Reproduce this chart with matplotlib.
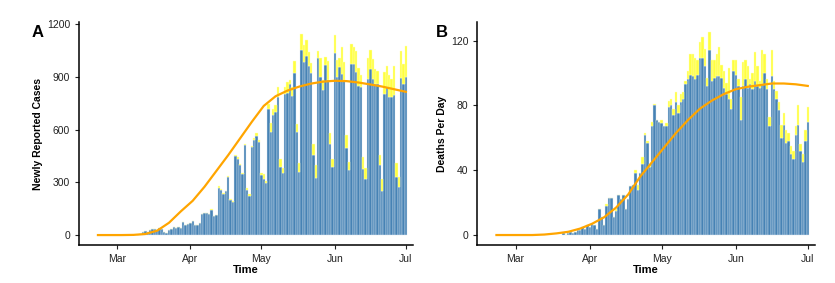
import numpy as np
import pandas as pd
import matplotlib
matplotlib.use("Agg")
import matplotlib.pyplot as plt
import matplotlib.dates as mdates

plt.rcParams['font.family'] = ['Liberation Sans', 'DejaVu Sans']

# Painel A: casos diários (10 mar - 1 jul)
dias_a = pd.date_range("2020-03-10", "2020-07-01", freq="D")
casos_azul = [
    3, 8, 20, 25, 15, 30, 35, 35, 30, 40, 35, 15, 10, 30, 35, 45, 40, 48, 42, 75, 55, 62,
    70, 78, 60, 58, 70, 120, 125, 125, 122, 145, 110, 115, 270, 255, 235, 250, 330, 200, 190,
    450, 435, 400, 350, 510, 255, 225, 500, 540, 565, 530,
    340, 320, 295, 720, 588, 683, 700, 787, 390, 355, 800, 810, 860, 790, 920, 588, 360,
    1055, 985, 1020, 960, 920, 455, 322, 1005, 900, 825, 965, 885, 520, 390,
    1035, 900, 955, 915, 880, 493, 370, 975, 975, 930, 850, 845, 374, 319,
    890, 945, 890, 860, 860, 399, 252, 800, 845, 785, 785, 795, 332, 275, 895, 860,
    900,
]
casos_amarelo = [
    0, 0, 0, 0, 0, 0, 0, 0, 0, 0, 0, 0, 0, 0, 0, 0, 0, 0, 0, 2, 0, 0,
    0, 0, 0, 0, 0, 0, 0, 0, 0, 5, 0, 0, 8, 5, 3, 3, 5, 3, 2,
    8, 8, 5, 5, 10, 10, 8, 5, 10, 15, 10,
    15, 25, 15, 25, 47, 37, 40, 53, 45, 25, 40, 60, 20, 50, 70, 43, 51,
    90, 95, 90, 80, 60, 65, 76, 40, 110, 60, 50, 105, 60, 45,
    105, 95, 55, 155, 105, 76, 43, 110, 95, 120, 100, 65, 68, 60,
    120, 110, 110, 85, 75, 56, 66, 130, 115, 125, 105, 165, 76, 57, 150, 115,
    175,
]
curva_dias_a = pd.date_range("2020-02-22", "2020-07-01", freq="5D")
curva_a = [0, 0, 0, 1, 6, 25, 70, 135, 195, 275, 365, 455, 550, 645, 735, 790,
           822, 845, 862, 873, 878, 876, 868, 857, 845, 830, 815]

# Painel B: óbitos diários (21 mar - 1 jul)
dias_b = pd.date_range("2020-03-21", "2020-07-01", freq="D")
obitos_azul = [
    1, 0, 1, 2, 1, 2, 3, 3, 5, 4, 6,
    5, 7, 6, 4, 16, 11, 6, 18, 23, 23, 11, 15, 25, 22, 25, 16, 22, 30, 31, 38, 28, 38, 44,
    62, 57, 42, 67, 80, 71, 70,
    69, 67, 67, 79, 80, 74, 82, 75, 82, 84, 93, 96, 99, 98, 96, 99, 109, 109, 104, 92, 114,
    95, 97, 98, 98, 97, 91, 87, 84, 78, 101,
    99, 92, 71, 92, 96, 91, 93, 90, 95, 92, 91, 93, 100, 90, 67,
    98, 90, 84, 77, 60, 68, 57, 58, 50, 47, 62, 68, 52, 45, 58,
    70,
]
obitos_amarelo = [
    0, 0, 0, 0, 0, 0, 0, 0, 0, 0, 0,
    0, 0, 0, 0, 0, 0, 0, 1, 0, 0, 0, 1, 0, 0, 0, 0, 0, 0, 0, 2, 3, 0, 4,
    1, 1, 2, 3, 1, 0, 0,
    2, 0, 2, 4, 4, 4, 6, 5, 5, 4, 2, 5, 13, 14, 13, 9, 10, 13, 11, 5, 11,
    13, 11, 14, 18, 8, 10, 7, 19, 6, 7,
    9, 4, 14, 15, 12, 13, 3, 10, 18, 12, 4, 21, 12, 6, 6,
    16, 5, 5, 5, 8, 7, 8, 5, 5, 5, 5, 12, 4, 5, 7,
    9,
]
curva_dias_b = pd.date_range("2020-02-22", "2020-07-01", freq="5D")
curva_b = [0, 0, 0, 0, 0.3, 1, 2, 4, 7, 11, 17, 25, 36, 45, 54, 63,
           71, 78, 83, 87, 90, 91.5, 92.5, 93.5, 93.5, 93, 92]

azul = "#4682B4"
amarelo = "#FFFF40"
laranja = "#FFA500"

fig = plt.figure(figsize=(8.35, 2.83), dpi=100)
ax_a = fig.add_axes([0.0946, 0.134, 0.40, 0.788])
ax_b = fig.add_axes([0.5716, 0.134, 0.4044, 0.788])


def painel(ax, dias, v_azul, v_amar, cdias, curva, ylim, yticks, ylabel, letra, xletra):
    ax.bar(dias, v_azul, width=1.0, color=azul, edgecolor="#dfe9f3", linewidth=0.3)
    ax.bar(dias, v_amar, width=1.0, bottom=v_azul, color=amarelo,
           edgecolor="#ffffc0", linewidth=0.3)
    ax.plot(cdias, curva, color=laranja, lw=1.6, zorder=3)
    ax.set_xlim(pd.Timestamp("2020-02-14"), pd.Timestamp("2020-07-04"))
    ax.set_ylim(*ylim)
    ax.set_yticks(yticks)
    ticks = pd.to_datetime(["2020-03-01", "2020-04-01", "2020-05-01",
                            "2020-06-01", "2020-07-01"])
    ax.set_xticks(ticks)
    ax.xaxis.set_major_formatter(mdates.DateFormatter("%b"))
    for s in ["top", "right"]:
        ax.spines[s].set_visible(False)
    for s in ["left", "bottom"]:
        ax.spines[s].set_linewidth(1.1)
    ax.tick_params(labelsize=7.5, length=3, width=0.8, colors="#222222",
                   labelcolor="#222222")
    ax.set_xlabel("Time", fontsize=8, fontweight="bold", labelpad=1)
    ax.set_ylabel(ylabel, fontsize=7.5, fontweight="bold", labelpad=3)
    ax.text(xletra, 0.955, letra, transform=ax.transAxes, fontsize=12,
            fontweight="bold", ha="center", va="center")


painel(ax_a, dias_a, casos_azul, casos_amarelo, curva_dias_a, curva_a,
       (-57, 1212), [0, 300, 600, 900, 1200], "Newly Reported Cases", "A", -0.124)
painel(ax_b, dias_b, obitos_azul, obitos_amarelo, curva_dias_b, curva_b,
       (-6.2, 131.4), [0, 40, 80, 120], "Deaths Per Day", "B", -0.105)

fig.savefig("out.png", dpi=100)
